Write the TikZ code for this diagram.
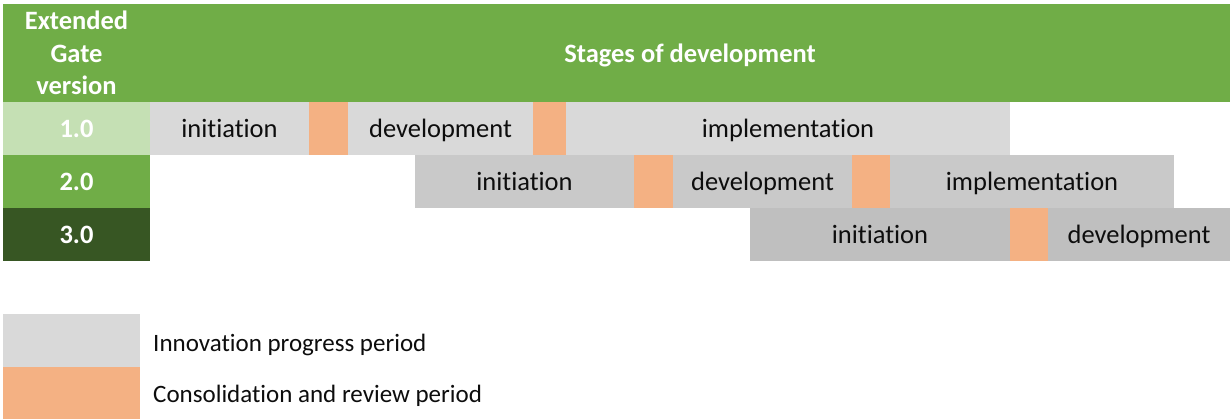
\documentclass[tikz,border=0pt]{standalone}
\usepackage{fontspec}
\setmainfont{Carlito}[Ligatures={NoCommon}]
\definecolor{hdrgreen}{HTML}{70AD47}
\definecolor{lightgreen}{HTML}{C5E0B4}
\definecolor{darkgreen}{HTML}{375623}
\definecolor{greyA}{HTML}{D9D9D9}
\definecolor{greyB}{HTML}{C9C9C9}
\definecolor{greyC}{HTML}{BFBFBF}
\definecolor{review}{HTML}{F4B183}
\definecolor{ink}{HTML}{0D0D0D}
\tikzset{
  cellbox/.style={anchor=north west, inner sep=0pt, outer sep=0pt, draw=none,
    minimum height=53pt, text=ink, text height=19pt, text depth=0pt,
    font=\fontsize{26.5}{32}\selectfont},
  vercell/.style={cellbox, minimum width=147pt, text=white, font=\fontsize{26.5}{32}\selectfont\bfseries},
  revcell/.style={cellbox, fill=review},
  legtext/.style={anchor=base west, inner sep=0pt, text=ink, font=\fontsize{25}{32}\selectfont}
}
\begin{document}
\begin{tikzpicture}[x=1pt,y=-1pt]
\useasboundingbox[fill=white] (0,0) rectangle (1230,419);
% header
\node[anchor=north west, inner sep=0pt, outer sep=0pt, fill=hdrgreen, minimum width=147pt, minimum height=98pt,
  align=center, text=white, font=\fontsize{26.5}{32.5}\selectfont\bfseries] (hv) at (3,4) {Extended\\Gate\\version};
\node[anchor=north west, inner sep=0pt, outer sep=0pt, fill=hdrgreen, minimum width=1080pt, minimum height=98pt,
  text height=20pt, text depth=0pt, text=white, font=\fontsize{26.5}{32}\selectfont\bfseries] (hs) at (150,4) {Stages of development};
% row 1
\node[vercell, fill=lightgreen] (v1) at (3,102) {1.0};
\node[cellbox, fill=greyA, minimum width=159pt] (r1i) at (150,102) {initiation};
\node[revcell, minimum width=39pt] (r1c1) at (309,102) {};
\node[cellbox, fill=greyA, minimum width=185pt] (r1d) at (348,102) {development};
\node[revcell, minimum width=33pt] (r1c2) at (533,102) {};
\node[cellbox, fill=greyA, minimum width=444pt] (r1m) at (566,102) {implementation};
% row 2
\node[vercell, fill=hdrgreen] (v2) at (3,155) {2.0};
\node[cellbox, fill=greyB, minimum width=219pt] (r2i) at (415,155) {initiation};
\node[revcell, minimum width=39pt] (r2c1) at (634,155) {};
\node[cellbox, fill=greyB, minimum width=179pt] (r2d) at (673,155) {development};
\node[revcell, minimum width=38pt] (r2c2) at (852,155) {};
\node[cellbox, fill=greyB, minimum width=284pt] (r2m) at (890,155) {implementation};
% row 3
\node[vercell, fill=darkgreen] (v3) at (3,208) {3.0};
\node[cellbox, fill=greyC, minimum width=260pt] (r3i) at (750,208) {initiation};
\node[revcell, minimum width=38pt] (r3c1) at (1010,208) {};
\node[cellbox, fill=greyC, minimum width=182pt] (r3d) at (1048,208) {development};
% legend
\node[cellbox, fill=greyA, minimum width=137pt] (lg1) at (3,314) {};
\node[revcell, minimum width=137pt, minimum height=52pt] (lg2) at (3,367) {};
\node[legtext] (lt1) at (153,351) {Innovation progress period};
\node[legtext] (lt2) at (153,402) {Consolidation and review period};
\end{tikzpicture}
\end{document}
